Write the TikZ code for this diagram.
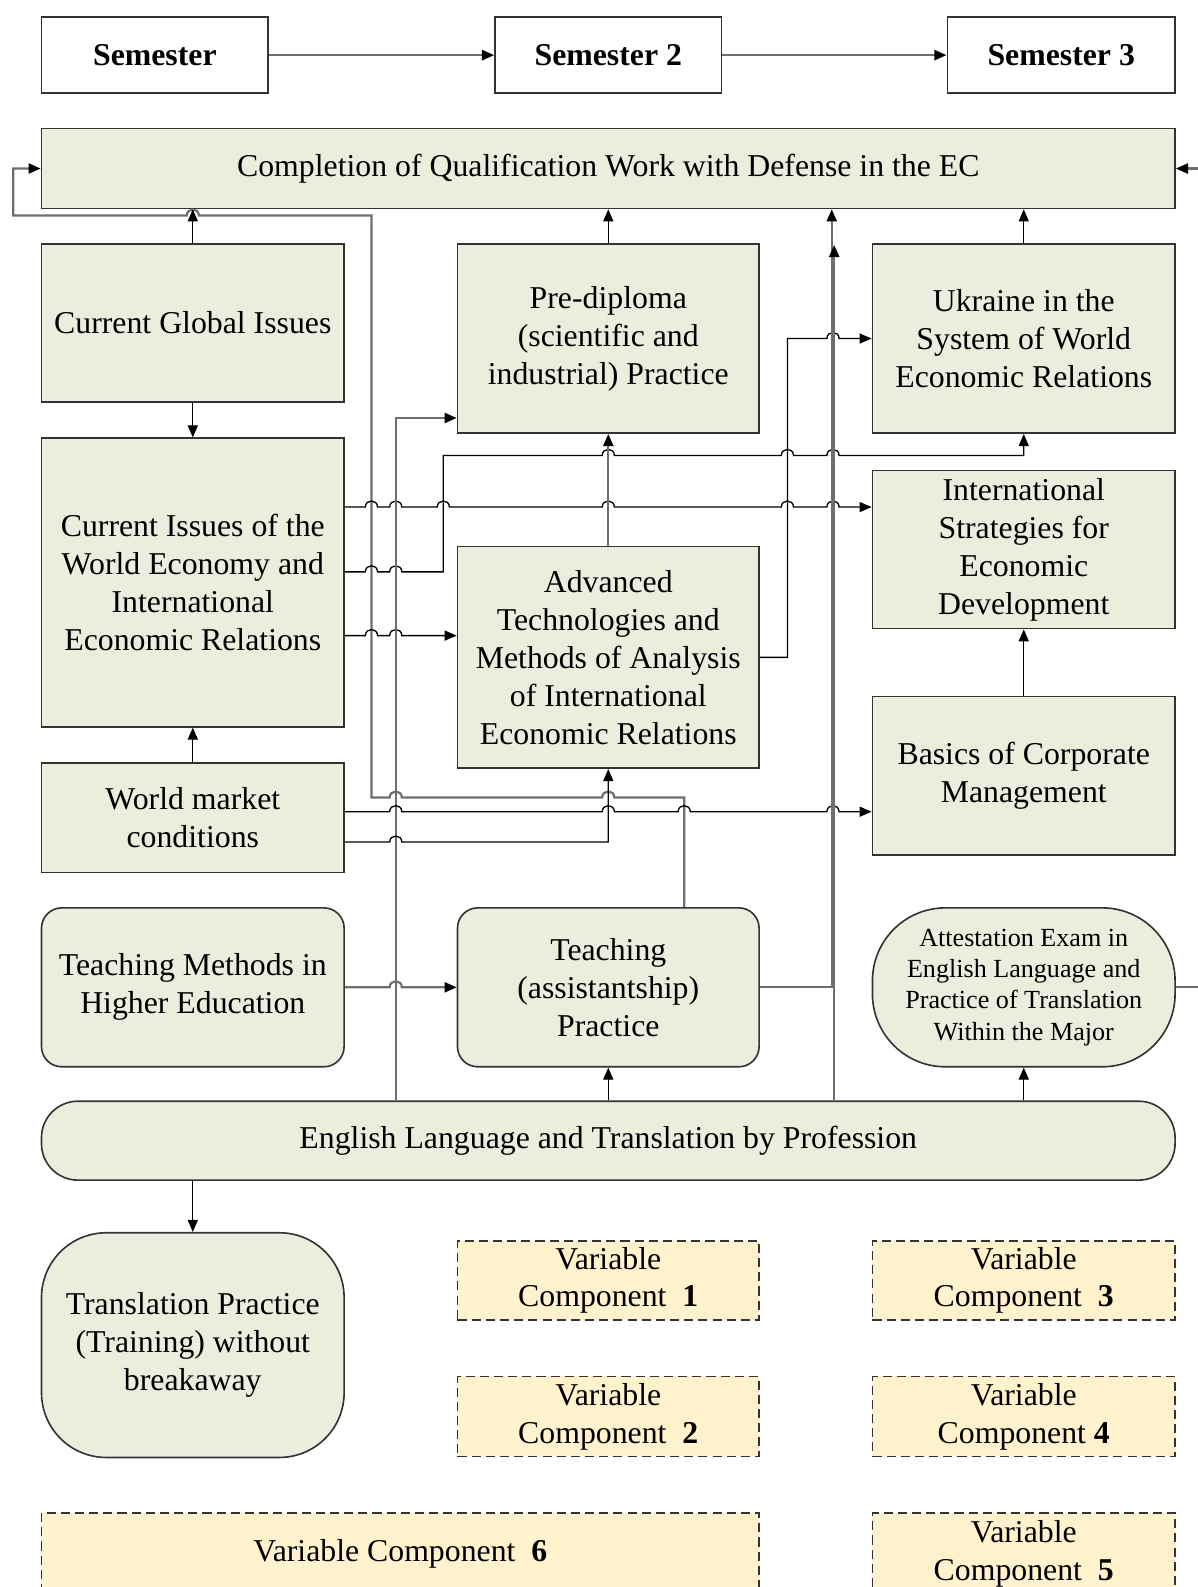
\documentclass[tikz,border=0pt]{standalone}
\usepackage{fontspec}
\setmainfont{Liberation Serif}
\usetikzlibrary{arrows.meta}
\definecolor{grn}{HTML}{E9EEDD}
\definecolor{ylw}{HTML}{FFF2CC}
\definecolor{bordc}{HTML}{333333}
\definecolor{lgray}{HTML}{6E6E6E}
\newcommand{\mfont}{\fontsize{15.7}{18.75}\selectfont}
\newcommand{\afont}{\fontsize{12.9}{15.5}\selectfont}
\begin{document}
\begin{tikzpicture}[x=0.5pt,y=-0.5pt,
  box/.style={draw=bordc,line width=0.8pt,fill=grn,align=center,inner sep=0pt,font=\mfont},
  sbox/.style={box,fill=white},
  rbox/.style={box,rounded corners=10pt},
  vbox/.style={box,fill=ylw,dash pattern=on 4.5pt off 2.5pt},
  blk/.style={draw=black,line width=0.65pt},
  gry/.style={draw=lgray,line width=1.1pt},
  arr/.style={-{Triangle[length=6pt,width=5pt,color=black]}},
  jr/.style args={#1/#2}{insert path={-- (#1-6,#2) .. controls (#1-6,#2-8) and (#1+6,#2-8) .. (#1+6,#2)}},
  jl/.style args={#1/#2}{insert path={-- (#1+6,#2) .. controls (#1+6,#2-8) and (#1-6,#2-8) .. (#1-6,#2)}}
]
\useasboundingbox (0,0) rectangle (1183,1568);

% channel coordinates
\coordinate (c13) at (13,0);
\coordinate (c367) at (367,0);
\coordinate (c391) at (391,0);
\coordinate (c438) at (438,0);
\coordinate (c601) at (601,0);
\coordinate (c676) at (676,0);
\coordinate (c778) at (778,0);
\coordinate (c822) at (821.8,0);
\coordinate (c824) at (824.2,0);
\coordinate (c1200) at (1200,0);
\coordinate (r213) at (0,213);
\coordinate (r242) at (0,242);
\coordinate (r413) at (0,413);
\coordinate (r450) at (0,450);
\coordinate (r501) at (0,501);
\coordinate (r565) at (0,565);
\coordinate (r628) at (0,628);
\coordinate (r788) at (0,788);
\coordinate (r802) at (0,802);
\coordinate (r832) at (0,832);

% semesters
\node[sbox,minimum width=112pt,minimum height=37.5pt] (sem1) at (153,54.5) {\textbf{Semester}};
\node[sbox,minimum width=112pt,minimum height=37.5pt] (sem2) at (601,54.5) {\textbf{Semester 2}};
\node[sbox,minimum width=112.5pt,minimum height=37.5pt] (sem3) at (1048.5,54.5) {\textbf{Semester 3}};

\node[box,minimum width=560pt,minimum height=39.5pt] (comp) at (601,166.5) {Completion of Qualification Work with Defense in the EC};

% left column
\node[box,minimum width=149.5pt,minimum height=78pt] (cgi) at (190.5,319) {Current Global Issues};
\node[box,minimum width=149.5pt,minimum height=142.5pt] (ci) at (190.5,575.5) {Current Issues of the\\World Economy and\\International\\Economic Relations};
\node[box,minimum width=149.5pt,minimum height=54pt] (wmc) at (190.5,808) {World market\\conditions};
\node[rbox,minimum width=149.5pt,minimum height=78.5pt] (tm) at (190.5,975.5) {Teaching Methods in\\Higher Education};
\node[box,rounded corners=18pt,minimum width=560pt,minimum height=39pt] (eng) at (601,1127) {English Language and Translation by Profession};
\node[box,rounded corners=32pt,minimum width=149.5pt,minimum height=111pt] (tp) at (190.5,1329) {Translation Practice\\(Training) without\\breakaway};
\node[vbox,minimum width=354.5pt,minimum height=40pt] (vc6) at (395.5,1535) {Variable Component\ \ \textbf{6}};

% middle column
\node[box,minimum width=149pt,minimum height=93.5pt] (pd) at (601,334.5) {Pre-diploma\\(scientific and\\industrial) Practice};
\node[box,minimum width=149pt,minimum height=109.5pt] (adv) at (601,649.5) {Advanced\\Technologies and\\Methods of Analysis\\of International\\Economic Relations};
\node[rbox,minimum width=149pt,minimum height=78.5pt] (tap) at (601,975.5) {Teaching\\(assistantship)\\Practice};
\node[vbox,minimum width=149pt,minimum height=39pt] (vc1) at (601,1265) {Variable\\Component\ \ \textbf{1}};
\node[vbox,minimum width=149pt,minimum height=39.5pt] (vc2) at (601,1399.5) {Variable\\Component\ \ \textbf{2}};

% right column
\node[box,minimum width=149.5pt,minimum height=93.5pt] (ukr) at (1011.5,334.5) {Ukraine in the\\System of World\\Economic Relations};
\node[box,minimum width=149.5pt,minimum height=78pt] (isd) at (1011.5,543) {International\\Strategies for\\Economic\\Development};
\node[box,minimum width=149.5pt,minimum height=78.5pt] (bcm) at (1011.5,766.5) {Basics of Corporate\\Management};
\node[box,rounded corners=36pt,minimum width=149.5pt,minimum height=78.5pt,font=\afont] (att) at (1011.5,975.5) {Attestation Exam in\\English Language and\\Practice of Translation\\Within the Major};
\node[vbox,minimum width=149.5pt,minimum height=39pt] (vc3) at (1011.5,1265) {Variable\\Component\ \ \textbf{3}};
\node[vbox,minimum width=149.5pt,minimum height=39.5pt] (vc4) at (1011.5,1399.5) {Variable\\Component \textbf{4}};
\node[vbox,minimum width=149.5pt,minimum height=40pt] (vc5) at (1011.5,1535) {Variable\\Component\ \ \textbf{5}};

% connectors
\draw[gry,arr] (sem1) -- (sem2);
\draw[gry,arr] (sem2) -- (sem3);

\draw[gry,arr] (tap.north -| c676) -- (c676 |- r788) [jl=601/788] [jl=391/788] -- (c367 |- r788) -- (c367 |- r213) [jl=190.5/213] -- (c13 |- r213) -- (c13 |- comp.west) -- (comp.west);

\draw[blk,arr] (cgi.north) -- (cgi.north |- comp.south);
\draw[blk,arr] (cgi.south) -- (ci.north);
\draw[blk,arr] (wmc.north) -- (ci.south);
\draw[blk,arr] (pd.north) -- (pd.north |- comp.south);
\draw[blk,arr] (ukr.north) -- (ukr.north |- comp.south);

\draw[blk,arr] (ci.east |- r501) [jr=367/501] [jr=391/501] [jr=438/501] [jr=601/501] [jr=778/501] [jr=823/501] -- (isd.west |- r501);
\draw[blk,arr] (ci.east |- r565) [jr=367/565] [jr=391/565] -- (c438 |- r565) -- (c438 |- r450) [jr=601/450] [jr=778/450] [jr=823/450] -- (ukr.south |- r450) -- (ukr.south);
\draw[blk,arr] (ci.east |- r628) [jr=367/628] [jr=391/628] -- (adv.west |- r628);

\draw[gry,arr] (adv.north) -- (pd.south);
\draw[blk,arr] (adv.east) -- (c778 |- adv.east) -- (c778 |- ukr.west) [jr=823/334.5] -- (ukr.west);

\draw[gry,arr] (eng.north -| c391) -- (c391 |- r413) -- (pd.west |- r413);

\draw[blk,arr] (wmc.east |- r802) [jr=391/802] [jr=601/802] [jr=676/802] [jr=823/802] -- (bcm.west |- r802);
\draw[blk,arr] (wmc.east |- r832) [jr=391/832] -- (c601 |- r832) -- (adv.south);

\draw[gry,arr] (tm.east) [jr=391/975.5] -- (tap.west);
\draw[gry,arr] (tap.east) -- (c822 |- tap.east) -- (c822 |- comp.south);
\draw[gry,arr] (eng.north -| c824) -- (c824 |- r242);

\draw[blk,arr] (eng.north) -- (tap.south);
\draw[blk,arr] (eng.north -| att.south) -- (att.south);
\draw[blk,arr] (eng.south -| tp.north) -- (tp.north);
\draw[blk,arr] (bcm.north) -- (isd.south);
\draw[gry,arr] (att.east) -- (c1200 |- att.east) -- (c1200 |- comp.east) -- (comp.east);
\end{tikzpicture}
\end{document}
